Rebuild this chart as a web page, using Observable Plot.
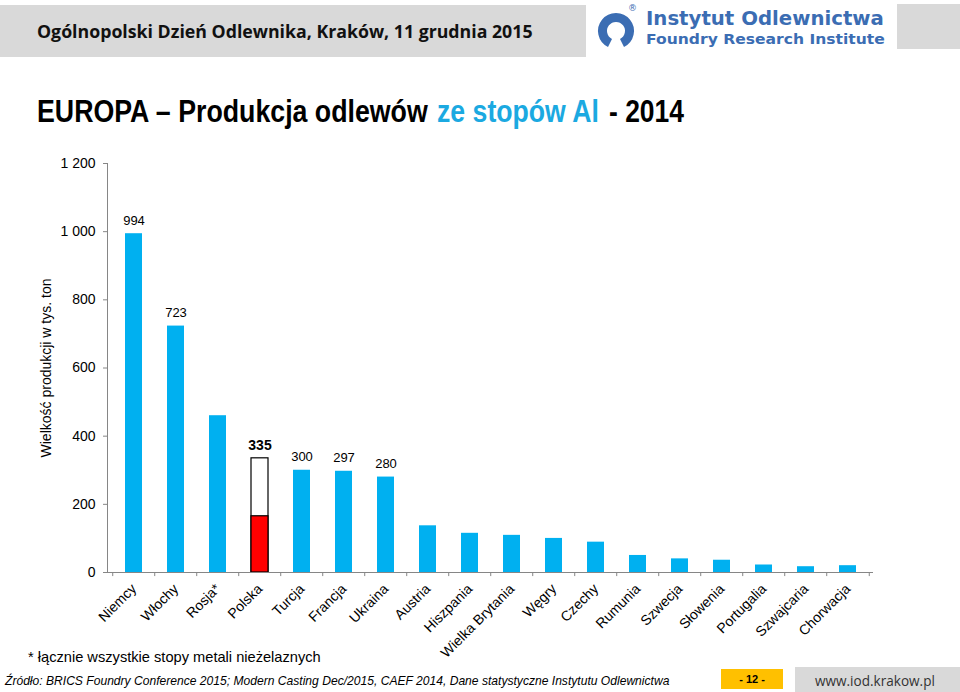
<!DOCTYPE html>
<html>
<head>
<meta charset="utf-8">
<script src="https://cdn.jsdelivr.net/npm/d3@7"></script>
<script src="https://cdn.jsdelivr.net/npm/@observablehq/plot@0.6"></script>
<style>
  html, body { margin: 0; padding: 0; background: #fff; }
  #page { position: relative; width: 960px; height: 692px; overflow: hidden; }
  #overlay { position: absolute; left: 0; top: 0; }
  #chart { position: absolute; left: 0; top: 150px; }
</style>
</head>
<body>
<div id="page">
<svg id="overlay" width="960" height="692" xmlns="http://www.w3.org/2000/svg">
  <rect x="0" y="5" width="586" height="52" fill="#d9d9d9"/>
  <rect x="897" y="4" width="63" height="45" fill="#d9d9d9"/>
  <text x="37" y="38" data-fit="496" font-family="Open Sans, sans-serif" font-weight="700" font-size="18" fill="#111">Ogólnopolski Dzień Odlewnika, Kraków, 11 grudnia 2015</text>
  <path d="M 610 43 A 13.5 13.5 0 1 1 622 43" fill="none" stroke="#3B6DB3" stroke-width="9"/>
  <text x="628" y="11" font-family="DejaVu Sans, sans-serif" font-size="9" fill="#3B6DB3">®</text>
  <text x="646" y="25" data-fit="238" font-family="DejaVu Sans, sans-serif" font-weight="bold" font-size="19" fill="#3B6DB3">Instytut Odlewnictwa</text>
  <text x="646" y="44" data-fit="239" font-family="DejaVu Sans, sans-serif" font-weight="bold" font-size="14" fill="#3B6DB3">Foundry Research Institute</text>
  <text x="37" y="122" data-fit="391" font-family="Liberation Sans Narrow, Liberation Sans, Arial, sans-serif" font-weight="bold" font-size="31" fill="#000">EUROPA – Produkcja odlewów</text>
  <text x="437" y="122" data-fit="162" font-family="Liberation Sans Narrow, Liberation Sans, Arial, sans-serif" font-weight="bold" font-size="31" fill="#1BA9E1">ze stopów Al</text>
  <text x="609" y="122" data-fit="75" font-family="Liberation Sans Narrow, Liberation Sans, Arial, sans-serif" font-weight="bold" font-size="31" fill="#000">- 2014</text>
  <text x="28" y="662" data-fit="293" font-family="Liberation Sans, Arial, sans-serif" font-size="14" fill="#000">* łącznie wszystkie stopy metali nieżelaznych</text>
  <text x="5" y="685" data-fit="665" font-family="Liberation Sans Narrow, Liberation Sans, Arial, sans-serif" font-style="italic" font-size="13" fill="#000">Źródło: BRICS Foundry Conference 2015; Modern Casting Dec/2015, CAEF 2014, Dane statystyczne Instytutu Odlewnictwa</text>
  <rect x="721" y="669" width="62" height="20" fill="#FFC000"/>
  <text x="752" y="683" text-anchor="middle" font-family="Liberation Sans, Arial, sans-serif" font-weight="bold" font-size="11" fill="#000">- 12 -</text>
  <rect x="795" y="667" width="165" height="25" fill="#d9d9d9"/>
  <text x="815" y="686" data-fit="120" font-family="Open Sans, sans-serif" font-size="15" fill="#333">www.iod.krakow.pl</text>
</svg>
<div id="chart"></div>
</div>
<script>
const categories = ["Niemcy","Włochy","Rosja*","Polska","Turcja","Francja","Ukraina","Austria","Hiszpania","Wielka Brytania","Węgry","Czechy","Rumunia","Szwecja","Słowenia","Portugalia","Szwajcaria","Chorwacja"];
const values = [994,723,460,335,300,297,280,137,115,109,100,89,50,40,36,22,17,20];
const highlightCategory = "Polska";
const highlightAlValue = 165;
const labeledCategories = ["Niemcy","Włochy","Turcja","Francja","Ukraina"];
const yTicks = [0,200,400,600,800,1000,1200];
const yLabel = "Wielkość produkcji w tys. ton";

// fit overlay texts horizontally to their measured widths in the reference
document.querySelectorAll("#overlay text[data-fit]").forEach(t => {
  const w = +t.getAttribute("data-fit");
  const x = +t.getAttribute("x"), y = +t.getAttribute("y");
  const len = t.getComputedTextLength();
  t.setAttribute("x", 0); t.setAttribute("y", 0);
  t.setAttribute("transform", `translate(${x},${y}) scale(${w / len},1)`);
});

const data = categories.map((c, i) => ({cat: c, value: values[i]}));
const fmt = d => d3.format(",")(d).replace(/,/g, " ");

const width = 960, marginLeft = 107, marginRight = 87;
const step = (width - marginLeft - marginRight) / categories.length;

const chart = Plot.plot({
  width, height: 522,
  marginLeft, marginRight, marginTop: 13, marginBottom: 100,
  style: {fontFamily: "Liberation Sans, Arial, sans-serif", fontSize: "14px", color: "#000", background: "transparent", overflow: "visible"},
  x: {domain: categories, paddingInner: 0.6, paddingOuter: 0.3, label: null},
  y: {domain: [0, 1200], label: null},
  marks: [
    Plot.barY(data.filter(d => d.cat !== highlightCategory), {x: "cat", y: "value", fill: "#00B0F0"}),
    Plot.barY(data.filter(d => d.cat === highlightCategory), {x: "cat", y: "value", fill: "white", stroke: "black", strokeWidth: 1.2}),
    Plot.barY([{cat: highlightCategory, value: highlightAlValue}], {x: "cat", y: "value", fill: "#FF0000", stroke: "black", strokeWidth: 1.2}),
    Plot.axisY({ticks: yTicks, tickFormat: fmt, tickSize: 4, tickPadding: 8, stroke: "#868686", label: null}),
    Plot.frame({anchor: "left", stroke: "#868686"}),
    Plot.ruleY([0], {stroke: "#868686"}),
    Plot.ruleX(categories, {x: d => d, dx: -step / 2, y1: 0, y2: -12, stroke: "#868686"}),
    Plot.ruleX([categories[categories.length - 1]], {x: d => d, dx: step / 2, y1: 0, y2: -12, stroke: "#868686"}),
    Plot.axisX({tickSize: 0, tickRotate: -45, tickPadding: 14, label: null}),
    Plot.text(data.filter(d => labeledCategories.includes(d.cat)), {x: "cat", y: "value", text: d => String(d.value), dy: -13, lineAnchor: "middle", fontSize: 13}),
    Plot.text(data.filter(d => d.cat === highlightCategory), {x: "cat", y: "value", text: d => String(d.value), dy: -13, lineAnchor: "middle", fontSize: 14, fontWeight: "bold"}),
    Plot.text([yLabel], {frameAnchor: "left", text: d => d, rotate: -90, dx: -61, fontSize: 14, textAnchor: "middle"})
  ]
});
document.getElementById("chart").appendChild(chart);
</script>
</body>
</html>
